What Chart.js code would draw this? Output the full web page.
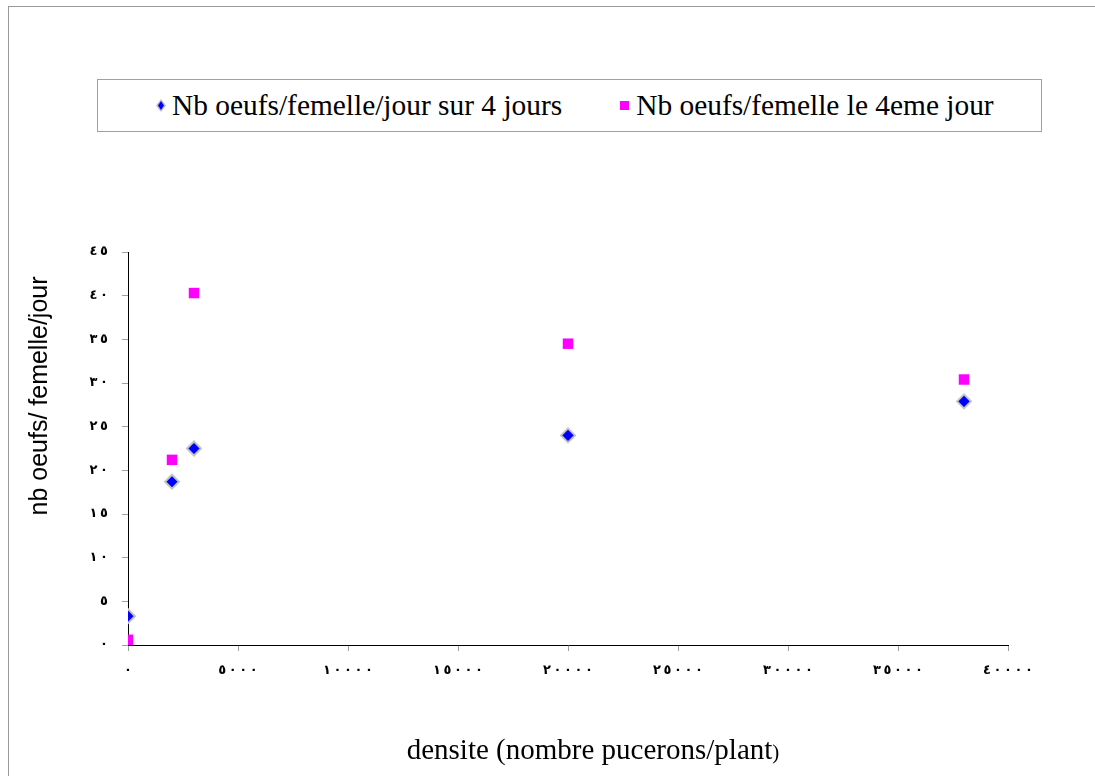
<!DOCTYPE html>
<html>
<head>
<meta charset="utf-8">
<title>densite</title>
<script src="https://cdn.jsdelivr.net/npm/chart.js@4.4.1/dist/chart.umd.min.js"></script>
<style>
  html, body { margin: 0; padding: 0; background: #fff; }
  #wrap { position: relative; width: 1095px; height: 776px; overflow: hidden; }
  #frame { position: absolute; left: 8px; top: 6px; right: -2px; bottom: -2px;
           border-top: 1px solid #999; border-left: 1px solid #999; }
  #legend { position: absolute; left: 97px; top: 79px; width: 945px; height: 53px; box-sizing: border-box;
            border: 1px solid #a0a0a0; background: #fff; display: flex; align-items: center; padding-left: 58px;
            font-family: "Liberation Serif", "Times New Roman", Times, serif; font-size: 29.4px; color: #000; }
  .item { display: flex; align-items: center; margin-right: 58px; white-space: nowrap; }
  .diamond { position: relative; width: 10px; height: 13px; margin-right: 6px;
             clip-path: polygon(50% 0, 100% 50%, 50% 100%, 0 50%); background: #c0c0c0; }
  .diamond::after { content: ""; position: absolute; left: 2px; top: 2px; width: 6px; height: 9px;
             clip-path: polygon(50% 0, 100% 50%, 50% 100%, 0 50%); background: #0000ff; }
  .square { width: 9px; height: 9px; margin-right: 7px; background: #ff00ff; }
  canvas { position: absolute; left: 0; top: 0; }
</style>
</head>
<body>
<div id="wrap">
  <div id="frame"></div>
  <canvas id="chart" width="1095" height="776"></canvas>
  <div id="legend"></div>
</div>
<script>
// data
const densite = [0, 2000, 3000, 20000, 38000];
const oeufsSur4Jours = [3.3, 18.7, 22.5, 24.0, 27.9];
const oeufs4emeJour = [0.6, 21.2, 40.3, 34.5, 30.4];

const seriesNames = ['Nb oeufs/femelle/jour sur 4 jours', 'Nb oeufs/femelle le 4eme jour'];
const xTitle = 'densite (nombre pucerons/plant)';
const yTitle = 'nb oeufs/ femelle/jour';

// tick labels as in the original (arabic-indic digits)
const xTickLabels = ['٠', '٥٠٠٠', '١٠٠٠٠', '١٥٠٠٠', '٢٠٠٠٠', '٢٥٠٠٠', '٣٠٠٠٠', '٣٥٠٠٠', '٤٠٠٠٠'];
const yTickLabels = ['٠', '٥', '١٠', '١٥', '٢٠', '٢٥', '٣٠', '٣٥', '٤٠', '٤٥'];

// spread the digits apart, LRM keeps them in reading order
const spaced = (s) => s.split('').join('\u200E\u2009\u200E');

const toPoints = (xs, ys) => xs.map((x, i) => ({ x: x, y: ys[i] }));

const axisTitles = {
    id: 'axisTitles',
    afterDraw(chart) {
        const { ctx, chartArea } = chart;
        ctx.save();
        ctx.fillStyle = '#000';
        ctx.textBaseline = 'alphabetic';
        // x title: closing bracket is set smaller in the original
        const main = xTitle.slice(0, -1);
        const last = xTitle.slice(-1);
        const bigFont = '29px "Liberation Serif", "Times New Roman", serif';
        const smallFont = '21px "Liberation Serif", "Times New Roman", serif';
        ctx.font = bigFont;
        const w1 = ctx.measureText(main).width;
        ctx.font = smallFont;
        const w2 = ctx.measureText(last).width;
        const x0 = chartArea.left + 465 - (w1 + w2) / 2;
        const base = chartArea.bottom + 114;
        ctx.textAlign = 'left';
        ctx.font = bigFont;
        ctx.fillText(main, x0, base);
        ctx.font = smallFont;
        ctx.fillText(last, x0 + w1, base);
        // y title
        ctx.textAlign = 'center';
        ctx.textBaseline = 'middle';
        ctx.translate(40.5, chartArea.top + 144);
        ctx.rotate(-Math.PI / 2);
        ctx.font = '25px "Liberation Sans", Arial, sans-serif';
        ctx.fillText(yTitle, 0, 0);
        ctx.restore();
    }
};

const tickFont = { family: '"DejaVu Sans", sans-serif', size: 13, weight: 'bold' };

const chart = new Chart(document.getElementById('chart'), {
    type: 'scatter',
    data: {
        datasets: [{
            label: seriesNames[0],
            data: toPoints(densite, oeufsSur4Jours),
            pointStyle: 'rectRot',
            pointRadius: 7,
            pointHoverRadius: 7,
            backgroundColor: '#0000ff',
            borderColor: '#c4c4c4',
            borderWidth: 2
        }, {
            label: seriesNames[1],
            data: toPoints(densite, oeufs4emeJour),
            pointStyle: 'rect',
            pointRadius: 7.4,
            pointHoverRadius: 7.4,
            backgroundColor: '#ff00ff',
            borderColor: '#ff00ff',
            borderWidth: 0
        }]
    },
    options: {
        responsive: false,
        animation: false,
        layout: { padding: { top: 252, right: 87, left: 0, bottom: 0 } },
        plugins: {
            legend: { display: false },
            tooltip: { enabled: false }
        },
        scales: {
            x: {
                type: 'linear',
                position: 'bottom',
                min: 0,
                max: 40000,
                afterFit: (scale) => { scale.height = 131; },
                grid: { drawOnChartArea: false, drawTicks: true, tickLength: 6, color: '#a0a0a0' },
                border: { color: '#000', width: 1 },
                ticks: {
                    stepSize: 5000,
                    padding: 12,
                    color: '#000',
                    font: tickFont,
                    maxRotation: 0,
                    callback: (value, index) => spaced(xTickLabels[index])
                }
            },
            y: {
                type: 'linear',
                min: 0,
                max: 45,
                afterFit: (scale) => { scale.width = 128; },
                grid: { drawOnChartArea: false, drawTicks: true, tickLength: 6, color: '#a0a0a0' },
                border: { color: '#000', width: 1 },
                ticks: {
                    stepSize: 5,
                    padding: 14,
                    color: '#000',
                    font: tickFont,
                    callback: (value, index) => spaced(yTickLabels[index])
                }
            }
        }
    },
    plugins: [axisTitles]
});

// boxed legend like the original
const legend = document.getElementById('legend');
chart.data.datasets.forEach((ds, i) => {
    const item = document.createElement('div');
    item.className = 'item';
    const mark = document.createElement('span');
    mark.className = i === 0 ? 'diamond' : 'square';
    const txt = document.createElement('span');
    txt.textContent = ds.label;
    item.appendChild(mark);
    item.appendChild(txt);
    legend.appendChild(item);
});
</script>
</body>
</html>
